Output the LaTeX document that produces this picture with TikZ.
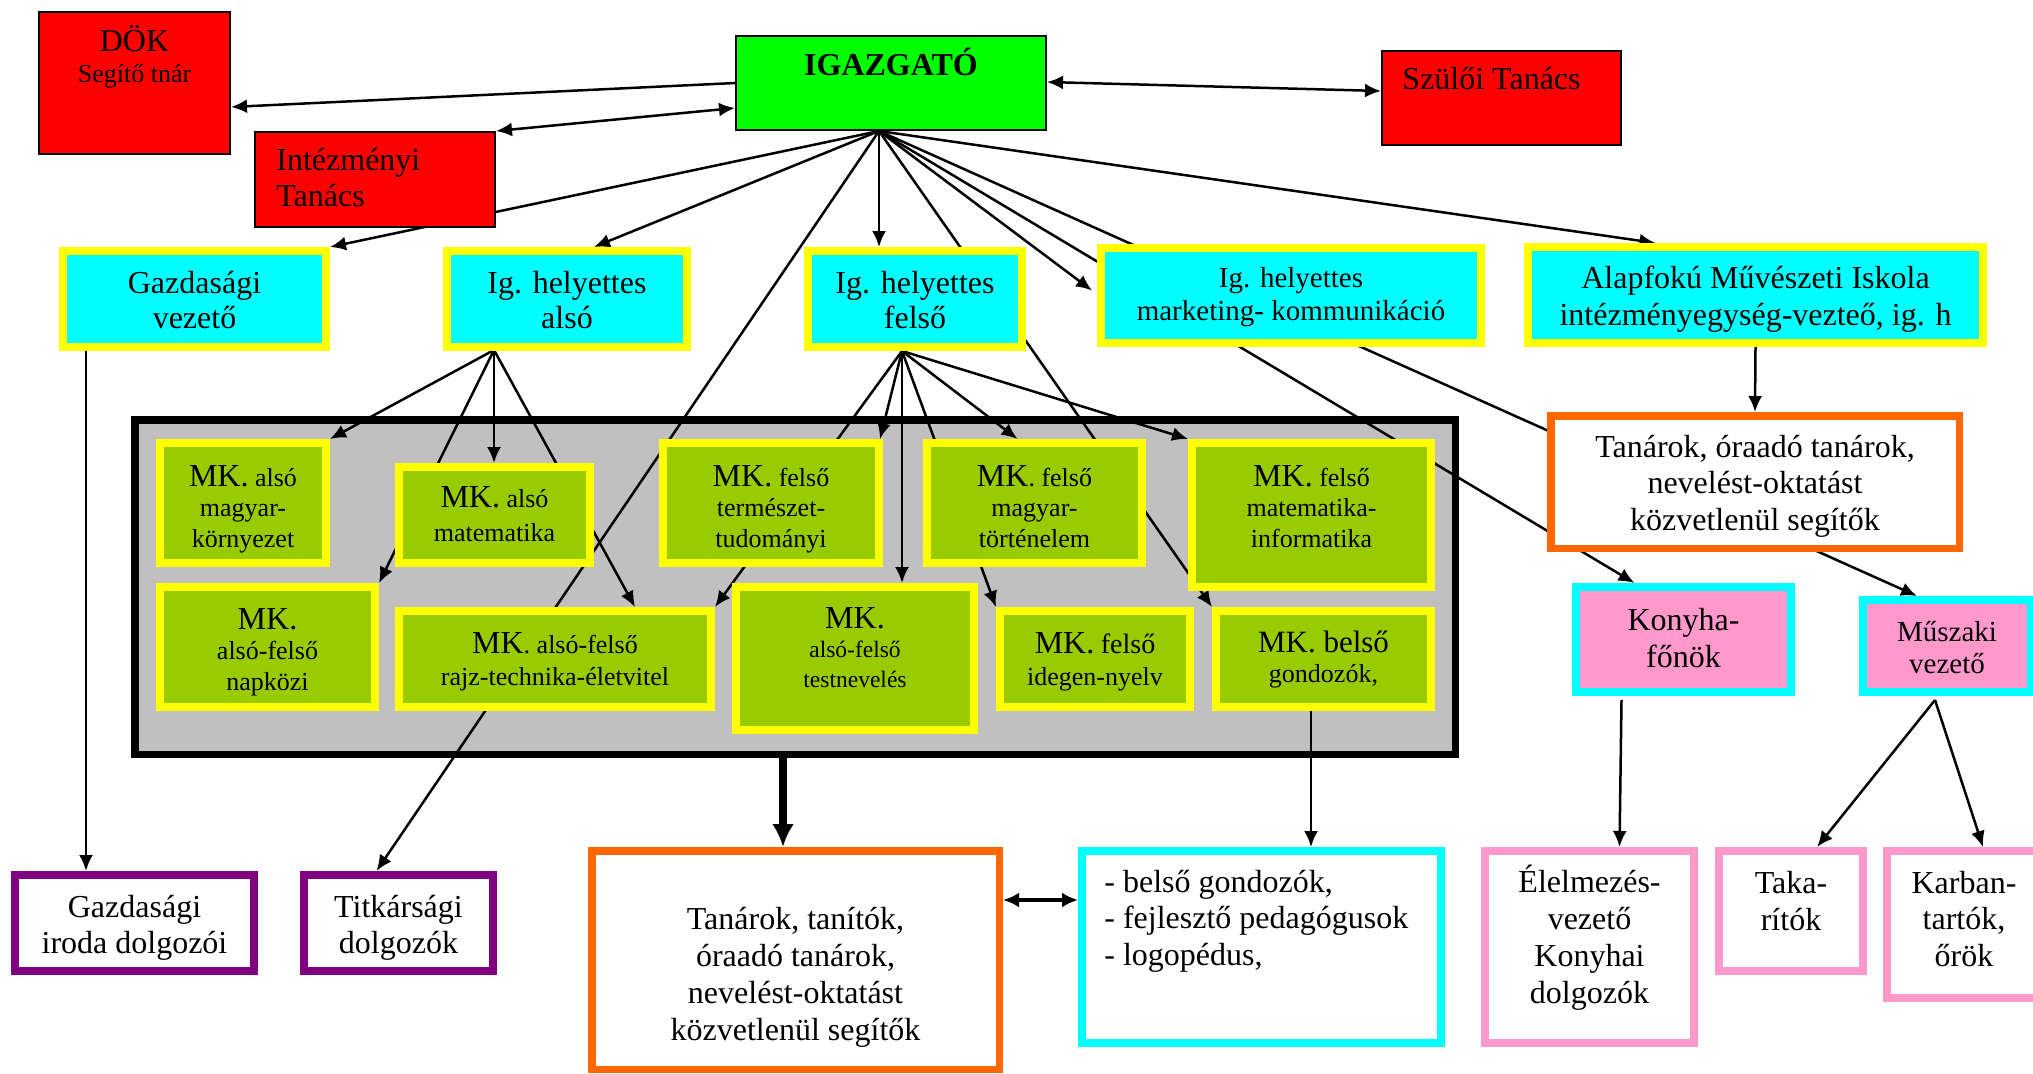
\documentclass[tikz,border=0pt]{standalone}
\usepackage{fontspec}
\setmainfont{Liberation Serif}
\usetikzlibrary{arrows.meta,calc}
\pgfdeclarelayer{greyl}
\pgfdeclarelayer{lines}
\pgfsetlayers{greyl,lines,main}
\definecolor{rd}{HTML}{FF0000}
\definecolor{gr}{HTML}{00FF00}
\definecolor{cy}{HTML}{00FFFF}
\definecolor{yl}{HTML}{FFFF00}
\definecolor{mkg}{HTML}{99CC00}
\definecolor{gy}{HTML}{C0C0C0}
\definecolor{orn}{HTML}{FF6600}
\definecolor{pur}{HTML}{800080}
\definecolor{pnk}{HTML}{FF99CC}
\newcommand\fsz[2]{\fontsize{#1}{#2}\selectfont}
% style, name, x1, y1, x2, y2 (outer edges, px), border width (px)
\newcommand\bx[7]{\node[#1, line width=#7*0.5pt, inner sep=0pt, anchor=north west,
  minimum width=(#5-#3-#7)*0.5pt, minimum height=(#6-#4-#7)*0.5pt] (#2) at (#3,#4) {};}
\begin{document}
\begin{tikzpicture}[x=0.5pt,y=-0.5pt,
  redbox/.style={draw=black, fill=rd},
  igbox/.style={draw=black, fill=gr},
  cybox/.style={draw=yl, fill=cy},
  mkbox/.style={draw=yl, fill=mkg},
  greybox/.style={draw=black, fill=gy},
  orbox/.style={draw=orn, fill=white},
  pubox/.style={draw=pur, fill=white},
  cyobox/.style={draw=cy, fill=white},
  pkbox/.style={draw=pnk, fill=white},
  kbox/.style={draw=cy, fill=pnk},
  tx/.style={inner sep=0pt, align=center, anchor=base, text=black},
  txl/.style={inner sep=0pt, align=left, anchor=base west, text=black},
  ln/.style={draw=black, line width=1.25pt},
  arr/.style={ln, -{Latex[length=8pt,width=7pt]}},
  darr/.style={ln, {Latex[length=8pt,width=7pt]}-{Latex[length=8pt,width=7pt]}},
  darrb/.style={draw=black, line width=1.6pt, {Latex[length=8pt,width=7.5pt]}-{Latex[length=8pt,width=7.5pt]}},
  thickarr/.style={draw=black, line width=4pt, -{Latex[length=11.5pt,width=11pt]}}
]
\useasboundingbox (0,0) rectangle (2033,1073);

% ---------- boxes ----------
\begin{pgfonlayer}{greyl}
\bx{greybox}{grey}{131}{416}{1459}{758}{7.5}
\end{pgfonlayer}

\bx{redbox}{dok}{38}{11}{231}{155}{2}
\bx{igbox}{ig}{735}{35}{1047}{131}{2}
\bx{redbox}{szt}{1381}{50}{1622}{146}{2}
\bx{redbox}{it}{254}{131}{496}{228}{2}
\bx{cybox}{gv}{59}{247}{330}{351}{8}
\bx{cybox}{iha}{443}{247}{691}{351}{8}
\bx{cybox}{ihf}{804}{247}{1026}{351}{8}
\bx{cybox}{ihm}{1097}{244}{1485}{347}{8}
\bx{cybox}{ami}{1524}{243}{1987}{347}{8}

\bx{mkbox}{mk1}{156}{439}{330}{567}{8}
\bx{mkbox}{mk2}{395}{463}{594}{567}{8}
\bx{mkbox}{mk3}{156}{583}{379}{711}{8}
\bx{mkbox}{mk4}{395}{607}{715}{711}{8}
\bx{mkbox}{mk5}{659}{439}{883}{567}{8}
\bx{mkbox}{mk6}{732}{583}{978}{734}{8}
\bx{mkbox}{mk7}{923}{439}{1146}{567}{8}
\bx{mkbox}{mk8}{1188}{439}{1435}{591}{8}
\bx{mkbox}{mk9}{996}{607}{1194}{711}{8}
\bx{mkbox}{mk10}{1212}{607}{1435}{711}{8}

\bx{orbox}{tr}{1547}{412}{1963}{552}{7.5}
\bx{kbox}{kf}{1572}{583}{1795}{696}{8}
\bx{kbox}{mv}{1859}{596}{2035}{696}{8}

\bx{pubox}{gid}{11}{871}{258}{975}{8}
\bx{pubox}{td}{300}{871}{497}{975}{8}
\bx{orbox}{tb}{588}{847}{1003}{1073}{7.5}
\bx{cyobox}{bl}{1078}{847}{1445}{1047}{8}
\bx{pkbox}{ek}{1481}{847}{1698}{1047}{8}
\bx{pkbox}{tk}{1715}{847}{1867}{975}{8}
\bx{pkbox}{kb}{1883}{847}{2045}{1002}{8}

% ---------- texts (anchored at the baseline of the last line) ----------
\node[tx, font=\fsz{13}{15.5}] (dok-t) at (134.5,82) {\fsz{16}{15.5}DÖK\\Segítő tnár};
\node[tx, font=\fsz{16}{18}\bfseries] (ig-t) at (891,75) {IGAZGATÓ};
\node[txl, font=\fsz{16}{18}] (szt-t) at (1402,89) {Szülői Tanács};
\node[txl, font=\fsz{16}{18}] (it-t) at (276,206) {Intézményi\\Tanács};
\node[tx, font=\fsz{16}{17.5}] (gv-t) at (194.5,328) {Gazdasági\\vezető};
\node[tx, font=\fsz{16}{17.5}] (iha-t) at (567,328) {Ig. helyettes\\alsó};
\node[tx, font=\fsz{16}{17.5}] (ihf-t) at (915,328) {Ig. helyettes\\felső};
\node[tx, font=\fsz{14.5}{16.5}] (ihm-t) at (1291,320) {Ig. helyettes\\marketing- kommunikáció};
\node[tx, font=\fsz{16}{18.5}] (ami-t) at (1755.5,325) {Alapfokú Művészeti Iskola\\intézményegység-vezteő, ig. h};

\node[tx, font=\fsz{13}{15.25}] (mk1-t) at (243,547) {{\fsz{16}{15.25}MK.} alsó\\magyar-\\környezet};
\node[tx, font=\fsz{13}{17}] (mk2-t) at (494.5,541) {{\fsz{16}{17}MK.} alsó\\matematika};
\node[tx, font=\fsz{13}{15.25}] (mk3-t) at (267.5,690) {\fsz{16}{15.25}MK.\\alsó-felső\\napközi};
\node[tx, font=\fsz{13}{16}] (mk4-t) at (555,685) {{\fsz{16}{16}MK}. alsó-felső\\rajz-technika-életvitel};
\node[tx, font=\fsz{13}{15.25}] (mk5-t) at (771,547) {{\fsz{16}{15.25}MK.} felső\\természet-\\tudományi};
\node[tx, font=\fsz{11.75}{14.75}] (mk6-t) at (855,687) {\fsz{16}{14.75}MK.\\alsó-felső\\testnevelés};
\node[tx, font=\fsz{13}{15.25}] (mk7-t) at (1034.5,547) {{\fsz{16}{15.25}MK}. felső\\magyar-\\történelem};
\node[tx, font=\fsz{13}{15.25}] (mk8-t) at (1311.5,547) {{\fsz{16}{15.25}MK.} felső\\matematika-\\informatika};
\node[tx, font=\fsz{13}{16}] (mk9-t) at (1095,685) {{\fsz{16}{16}MK.} {\fsz{14}{16}felső}\\idegen-nyelv};
\node[tx, font=\fsz{13}{15}] (mk10-t) at (1323.5,682) {\fsz{15.5}{15}MK. belső\\gondozók,};

\node[tx, font=\fsz{16}{18.25}] (tr-t) at (1755,530) {Tanárok, óraadó tanárok,\\nevelést-oktatást\\közvetlenül segítők};
\node[tx, font=\fsz{16}{18.5}] (kf-t) at (1683.5,667) {Konyha-\\főnök};
\node[tx, font=\fsz{14.5}{16}] (mv-t) at (1947,673) {Műszaki\\vezető};
\node[tx, font=\fsz{16}{18}] (gid-t) at (134.5,953) {Gazdasági\\iroda dolgozói};
\node[tx, font=\fsz{16}{18}] (td-t) at (398.5,953) {Titkársági\\dolgozók};
\node[tx, font=\fsz{16}{18.35}] (tb-t) at (795.5,1040) {Tanárok, tanítók,\\óraadó tanárok,\\nevelést-oktatást\\közvetlenül segítők};
\node[txl, font=\fsz{16}{18.25}] (bl-t) at (1104,965) {- belső gondozók,\\- fejlesztő pedagógusok\\- logopédus,};
\node[tx, font=\fsz{16}{18.35}] (ek-t) at (1589.5,1003) {Élelmezés-\\vezető\\Konyhai\\dolgozók};
\node[tx, font=\fsz{16}{18.35}] (tk-t) at (1791,930) {Taka-\\rítók};
\node[tx, font=\fsz{16}{18.25}] (kb-t) at (1964,966) {Karban-\\tartók,\\őrök};

% ---------- connectors ----------
\coordinate (igb) at (879,131);
\coordinate (ihab) at (494,350);
\coordinate (ihfb) at (902,351);
\begin{pgfonlayer}{lines}
\draw[arr] (ig.west) -- ($(dok.east)+(0,24)$);
\draw[darr] (it.north east) -- ($(ig.west)+(0,25)$);
\draw[darr] ($(ig.east)+(0,-1)$) -- ($(szt.west)+(0,-7)$);
\draw[arr] (igb) -- (gv.north east);
\draw[arr] (igb) -- ($(iha.north)+(27,0)$);
\draw[arr] (igb) -- ($(td.north)+(-22,0)$);
\draw[arr] (igb) -- (igb |- ihf.north);
\draw[arr] (igb) -- (mk10.north west);
\draw[arr] (igb) -- ($(ihm.west)+(-5,-5)$);
\draw[arr] (igb) -- ($(kf.north)+(-49,0)$);
\draw[arr] (igb) -- ($(mv.north)+(-30,0)$);
\draw[arr] (igb) -- ($(ami.north)+(-100,0)$);

\draw[arr] (ihab) -- (mk1.north east);
\draw[arr] (ihab) -- (mk3.north east);
\draw[arr] (ihab) -- (ihab |- mk2.north);
\draw[arr] (ihab) -- ($(mk4.north)+(80,0)$);

\draw[arr] (ihfb) -- (mk4.north east);
\draw[arr] (ihfb) -- ($(mk5.north east)+(-3,0)$);
\draw[arr] (ihfb) -- (ihfb |- mk6.north);
\draw[arr] (ihfb) -- (mk9.north west);
\draw[arr] (ihfb) -- ($(mk7.north)+(-17,0)$);
\draw[arr] (ihfb) -- (mk8.north west);

\coordinate (gvo) at ($(gv.south west)+(27,0)$);
\draw[arr] (gvo) -- (gvo |- gid.north);

\coordinate (tbi) at ($(tb.north)+(-12.5,0)$);
\draw[thickarr] (tbi |- grey.south) -- (tbi);

\coordinate (mko) at ($(mk10.south)+(-12.5,0)$);
\draw[arr] (mko) -- (mko |- bl.north);

\coordinate (blw) at ($(bl.west)+(0,-47)$);
\draw[darrb] (blw -| tb.east) -- (blw);

\draw[arr] (ami.south) -- (tr.north);

\coordinate (kfo) at ($(kf.south)+(-62,4)$);
\draw[arr] (kfo) -- ($(ek.north)+(30,0)$);

\coordinate (mvo) at ($(mv.south)+(-12,4)$);
\draw[arr] (mvo) -- ($(tk.north)+(26,0)$);
\draw[arr] (mvo) -- ($(kb.north west)+(100,0)$);
\end{pgfonlayer}
\end{tikzpicture}
\end{document}
